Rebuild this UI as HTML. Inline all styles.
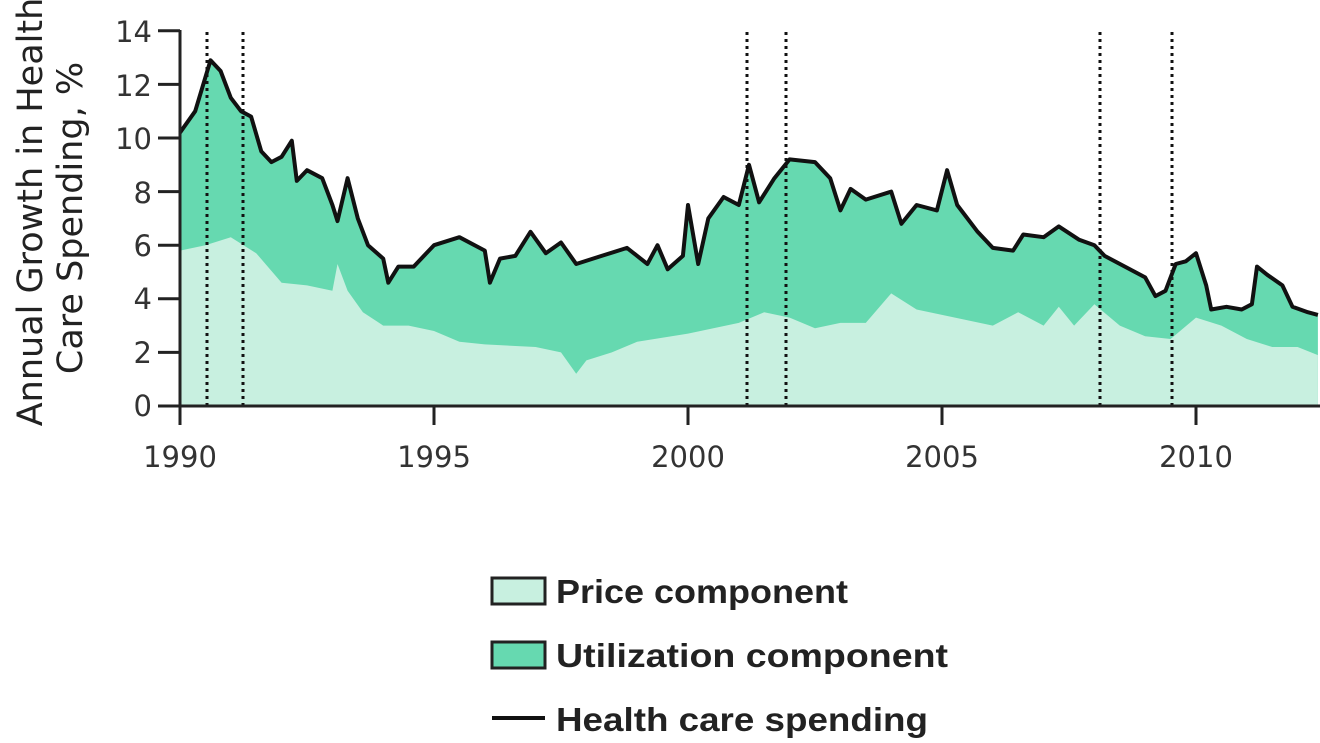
<!DOCTYPE html>
<html><head><meta charset="utf-8"><style>
html,body{margin:0;padding:0;background:#fff;}
svg{display:block;font-family:"DejaVu Sans","Liberation Sans",sans-serif;}
</style></head><body>
<svg id="s" width="1320" height="743" viewBox="0 0 1320 743" xmlns="http://www.w3.org/2000/svg">
<g id="g"></g>
<g fill="#333" font-size="29" text-anchor="end">
<text x="152" y="416">0</text><text x="152" y="363">2</text><text x="152" y="309">4</text><text x="152" y="256">6</text><text x="152" y="203">8</text><text x="152" y="149">10</text><text x="152" y="96">12</text><text x="152" y="42">14</text>
</g>
<g fill="#333" font-size="29" text-anchor="middle">
<text x="180" y="467">1990</text><text x="434" y="467">1995</text><text x="688" y="467">2000</text><text x="942" y="467">2005</text><text x="1196" y="467">2010</text>
</g>
<g fill="#222" font-size="35" text-anchor="middle">
<text transform="translate(42,212) rotate(-90)">Annual Growth in Health</text>
<text transform="translate(82,218) rotate(-90)">Care Spending, %</text>
</g>
<rect x="492" y="578" width="53" height="26" fill="#c8f0e0" stroke="#222" stroke-width="3"/>
<rect x="492" y="642" width="53" height="26" fill="#66d9b0" stroke="#222" stroke-width="3"/>
<line x1="492" y1="718" x2="545" y2="718" stroke="#111" stroke-width="4"/>
<g fill="#222" font-size="33" font-weight="bold" font-family="Liberation Sans, sans-serif">
<text x="556" y="603" textLength="292" lengthAdjust="spacingAndGlyphs">Price component</text>
<text x="556" y="667" textLength="392" lengthAdjust="spacingAndGlyphs">Utilization component</text>
<text x="556" y="731" textLength="372" lengthAdjust="spacingAndGlyphs">Health care spending</text>
</g>
</svg>
<script>
var X=function(y){return 180+(y-1990)*50.8},Y=function(v){return 406-v*26.8};
var sp=[[1990,10.2],[1990.3,11],[1990.6,12.9],[1990.8,12.5],[1991,11.5],[1991.2,11],[1991.4,10.8],[1991.6,9.5],[1991.8,9.1],[1992,9.3],[1992.2,9.9],[1992.3,8.4],[1992.5,8.8],[1992.8,8.5],[1993,7.5],[1993.1,6.9],[1993.3,8.5],[1993.5,7],[1993.7,6],[1994,5.5],[1994.1,4.6],[1994.3,5.2],[1994.6,5.2],[1995,6],[1995.5,6.3],[1996,5.8],[1996.1,4.6],[1996.3,5.5],[1996.6,5.6],[1996.9,6.5],[1997.2,5.7],[1997.5,6.1],[1997.8,5.3],[1998.3,5.6],[1998.8,5.9],[1999.2,5.3],[1999.4,6],[1999.6,5.1],[1999.9,5.6],[2000,7.5],[2000.2,5.3],[2000.4,7],[2000.7,7.8],[2001,7.5],[2001.2,9],[2001.4,7.6],[2001.7,8.5],[2002,9.2],[2002.5,9.1],[2002.8,8.5],[2003,7.3],[2003.2,8.1],[2003.5,7.7],[2004,8],[2004.2,6.8],[2004.5,7.5],[2004.9,7.3],[2005.1,8.8],[2005.3,7.5],[2005.7,6.5],[2006,5.9],[2006.4,5.8],[2006.6,6.4],[2007,6.3],[2007.3,6.7],[2007.7,6.2],[2008,6],[2008.2,5.6],[2008.6,5.2],[2009,4.8],[2009.2,4.1],[2009.4,4.3],[2009.6,5.3],[2009.8,5.4],[2010,5.7],[2010.2,4.5],[2010.3,3.6],[2010.6,3.7],[2010.9,3.6],[2011.1,3.8],[2011.2,5.2],[2011.4,4.9],[2011.7,4.5],[2011.9,3.7],[2012.2,3.5],[2012.4,3.4]];
var pr=[[1990,5.8],[1990.5,6],[1991,6.3],[1991.5,5.7],[1992,4.6],[1992.5,4.5],[1993,4.3],[1993.1,5.3],[1993.3,4.3],[1993.6,3.5],[1994,3],[1994.5,3],[1995,2.8],[1995.5,2.4],[1996,2.3],[1997,2.2],[1997.5,2],[1997.8,1.2],[1998,1.7],[1998.5,2],[1999,2.4],[2000,2.7],[2001,3.1],[2001.5,3.5],[2002,3.3],[2002.5,2.9],[2003,3.1],[2003.5,3.1],[2004,4.2],[2004.5,3.6],[2005,3.4],[2006,3],[2006.5,3.5],[2007,3],[2007.3,3.7],[2007.6,3],[2008,3.8],[2008.5,3],[2009,2.6],[2009.5,2.5],[2010,3.3],[2010.5,3],[2011,2.5],[2011.5,2.2],[2012,2.2],[2012.4,1.9]];
function pts(a){return a.map(function(p){return X(p[0]).toFixed(1)+","+Y(p[1]).toFixed(1)}).join(" ")}
var h='';
h+='<polygon fill="#66d9b0" points="'+X(1990)+','+Y(0)+' '+pts(sp)+' '+X(2012.4)+','+Y(0)+'"/>';
h+='<polygon fill="#c8f0e0" points="'+X(1990)+','+Y(0)+' '+pts(pr)+' '+X(2012.4)+','+Y(0)+'"/>';
[207,243,747,786,1100,1172].forEach(function(x){h+='<line x1="'+x+'" y1="32" x2="'+x+'" y2="406" stroke="#111" stroke-width="3" stroke-dasharray="3,4"/>'});
h+='<polyline fill="none" stroke="#111" stroke-width="4" stroke-linejoin="round" points="'+pts(sp)+'"/>';
h+='<line x1="180" y1="30" x2="180" y2="425" stroke="#222" stroke-width="3"/><line x1="158" y1="406" x2="1320" y2="406" stroke="#222" stroke-width="3"/>';
for(var v=0;v<=14;v+=2)h+='<line x1="158" y1="'+Y(v)+'" x2="180" y2="'+Y(v)+'" stroke="#222" stroke-width="3"/>';
for(var y=1995;y<=2010;y+=5)h+='<line x1="'+X(y)+'" y1="406" x2="'+X(y)+'" y2="425" stroke="#222" stroke-width="3"/>';
document.getElementById('g').innerHTML=h;
</script>
</body></html>
